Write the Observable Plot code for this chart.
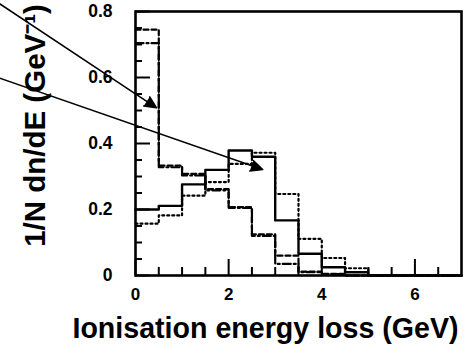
<!DOCTYPE html>
<html>
<head>
<meta charset="utf-8">
<script src="https://cdn.jsdelivr.net/npm/d3@7"></script>
<script src="https://cdn.jsdelivr.net/npm/@observablehq/plot@0.6"></script>
<style>
  html, body { margin: 0; padding: 0; background: #fff; }
  svg { overflow: visible; }
</style>
</head>
<body>
<div id="chart"></div>
<script>
// Bin edges (GeV), bin width 0.5
const binEdges = [0, 0.5, 1, 1.5, 2, 2.5, 3, 3.5, 4, 4.5, 5, 5.5, 6, 6.5, 7];
// Histogram contents per bin (1/N dn/dE)
const solidValues   = [0.200, 0.211, 0.276, 0.320, 0.379, 0.360, 0.167, 0.066, 0.025, 0.010, 0, 0, 0, 0];
const dottedValues  = [0.157, 0.182, 0.242, 0.283, 0.338, 0.372, 0.247, 0.111, 0.053, 0.022, 0, 0, 0, 0];
const dashedValues  = [0.745, 0.333, 0.308, 0.262, 0.207, 0.125, 0.060, 0.012, 0.005, 0, 0, 0, 0, 0];
const dashDotValues = [0.704, 0.328, 0.303, 0.258, 0.205, 0.120, 0.035, 0.010, 0.004, 0, 0, 0, 0, 0];

// Axis ticks
const xMajorTicks = [0, 2, 4, 6];
const xMinorTicks = [0.5, 1, 1.5, 2.5, 3, 3.5, 4.5, 5, 5.5, 6.5];
const yMajorTicks = [0, 0.2, 0.4, 0.6, 0.8];
const yMinorTicks = [0.05, 0.1, 0.15, 0.25, 0.3, 0.35, 0.45, 0.5, 0.55, 0.65, 0.7, 0.75];

// Annotation arrows (data units): start -> tip
const arrowX1 = [-3.2, -3.2];
const arrowY1 = [0.850, 0.612];
const arrowX2 = [0.452, 2.731];
const arrowY2 = [0.508, 0.321];

const xTitle = "Ionisation energy loss (GeV)";
const yTitle = "1/N dn/dE (GeV\u207B\u00B9)";

function steps(values) {
  const pts = values.map((v, i) => ({x: binEdges[i], y: v}));
  pts.push({x: binEdges[binEdges.length - 1], y: values[values.length - 1]});
  return pts;
}

const arrows = arrowX1.map((_, i) => ({x1: arrowX1[i], y1: arrowY1[i], x2: arrowX2[i], y2: arrowY2[i]}));

const font = "'Liberation Sans', Arial, Helvetica, sans-serif";

const chart = Plot.plot({
  width: 468,
  height: 347,
  marginLeft: 135,
  marginRight: 7,
  marginTop: 11,
  marginBottom: 72,
  style: {fontFamily: font, background: "#fff", color: "#000"},
  x: {domain: [0, 7]},
  y: {domain: [0, 0.8]},
  marks: [
    Plot.line(steps(dottedValues),  {x: "x", y: "y", curve: "step-after", stroke: "#000", strokeWidth: 2.2, strokeDasharray: "2,3"}),
    Plot.line(steps(dashedValues),  {x: "x", y: "y", curve: "step-after", stroke: "#000", strokeWidth: 2.2, strokeDasharray: "5,3"}),
    Plot.line(steps(dashDotValues), {x: "x", y: "y", curve: "step-after", stroke: "#000", strokeWidth: 2.2, strokeDasharray: "8,3,2,3"}),
    Plot.line(steps(solidValues),   {x: "x", y: "y", curve: "step-after", stroke: "#000", strokeWidth: 2.4}),
    Plot.axisX({ticks: xMinorTicks, tickSize: -8, tickFormat: () => "", label: null, strokeWidth: 2}),
    Plot.axisX({ticks: xMajorTicks, tickSize: -16, tickPadding: 28, tickFormat: d => String(d), label: null, strokeWidth: 2, fontSize: 17, fontWeight: "bold"}),
    Plot.axisY({ticks: yMinorTicks, tickSize: -7, tickFormat: () => "", label: null, strokeWidth: 2}),
    Plot.axisY({ticks: yMajorTicks, tickSize: -15, tickPadding: 38, tickFormat: d => String(d), label: null, strokeWidth: 2, fontSize: 17.5, fontWeight: "bold"}),
    Plot.frame({stroke: "#000", strokeWidth: 2.6}),
    Plot.arrow(arrows, {x1: "x1", y1: "y1", x2: "x2", y2: "y2", stroke: "#000", fill: "#000", strokeWidth: 1.5, headLength: 13, headAngle: 50}),
    Plot.text([xTitle], {text: d => d, frameAnchor: "bottom", dx: -33, dy: 53, fontSize: 28.6, fontWeight: "bold", lineAnchor: "middle", textAnchor: "middle"}),
    Plot.text([yTitle], {text: d => d, frameAnchor: "left", rotate: -90, dx: -100, dy: -18, fontSize: 29.5, fontWeight: "bold", lineAnchor: "middle", textAnchor: "middle"})
  ]
});
document.getElementById("chart").appendChild(chart);
</script>
</body>
</html>
